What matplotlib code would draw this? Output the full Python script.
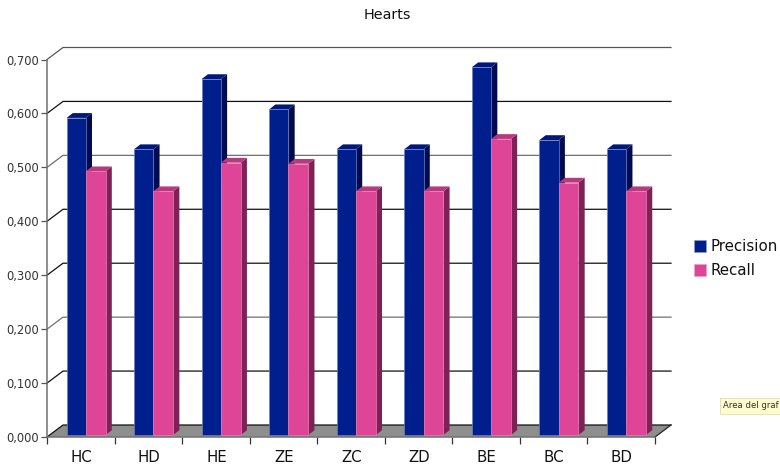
import matplotlib
matplotlib.use('Agg')
import matplotlib.pyplot as plt
from matplotlib.patches import Patch, Polygon

categories = ['HC', 'HD', 'HE', 'ZE', 'ZC', 'ZD', 'BE', 'BC', 'BD']
precision = [0.588, 0.530, 0.660, 0.604, 0.530, 0.530, 0.682, 0.547, 0.530]
recall = [0.489, 0.452, 0.505, 0.503, 0.452, 0.452, 0.549, 0.468, 0.452]
y_ticks = [0.0, 0.1, 0.2, 0.3, 0.4, 0.5, 0.6, 0.7]

W, H = 780, 467
LEFT, RIGHT, BOTTOM, TOP = 47, 655, 437, 59.5  # plot box in pixels

# pixel sizes turned into data units
px_x = len(categories) / (RIGHT - LEFT)
px_y = 0.7 / (BOTTOM - TOP)
wall_dx, wall_dy = 16 * px_x, 12 * px_y
bar_dx, bar_dy = 6.2 * px_x, 4.8 * px_y
blue_w = 19.2 * px_x
pink_w = 19.8 * px_x
bar_gap = 19.6 * px_x
base = 2 * px_y

fig = plt.figure(figsize=(W / 100, H / 100), dpi=100)
ax = fig.add_axes([LEFT / W, 1 - BOTTOM / H, (RIGHT - LEFT) / W, (BOTTOM - TOP) / H])
ax.set_xlim(0, len(categories))
ax.set_ylim(0, 0.7)
ax.patch.set_visible(False)
for name in ['top', 'right']:
    ax.spines[name].set_visible(False)
for name in ['left', 'bottom']:
    ax.spines[name].set_color('#707070')
    ax.spines[name].set_linewidth(1.1)

# floor
n = len(categories)
ax.add_patch(Polygon([(0, 0), (wall_dx, wall_dy), (n + wall_dx, wall_dy), (n, 0)],
                     closed=True, fc='#8e8e8e', ec='none', clip_on=False, zorder=1))

# grid, running along the side wall and the back wall
for v, c in zip(y_ticks, ['#111111', '#111111', '#707070', '#111111', '#111111', '#707070', '#111111', '#555555']):
    ax.plot([0, wall_dx, n + wall_dx], [v, v + wall_dy, v + wall_dy],
            color=c, lw=0.9, clip_on=False, zorder=2)
ax.plot([n, n + wall_dx], [0, wall_dy], color='#222222', lw=0.9, clip_on=False, zorder=2)


def draw_bar(x, val, w, front, top, side, edge, z):
    y1 = base + val
    ax.add_patch(Polygon([(x + w, base), (x + w + bar_dx, base + bar_dy),
                          (x + w + bar_dx, y1 + bar_dy), (x + w, y1)],
                         closed=True, fc=side, ec='none', clip_on=False, zorder=z))
    ax.add_patch(Polygon([(x, y1), (x + bar_dx, y1 + bar_dy),
                          (x + w + bar_dx, y1 + bar_dy), (x + w, y1)],
                         closed=True, fc=top, ec='none', clip_on=False, zorder=z))
    ax.bar(x, val, w, bottom=base, align='edge', color=front, edgecolor=edge, linewidth=0.5, zorder=z + 0.5)


for i in range(n):
    x = i + bar_gap
    draw_bar(x, precision[i], blue_w, '#001e8c', '#00187a', '#000a50', '#6f80c0', 3 + i * 2)
    draw_bar(x + blue_w, recall[i], pink_w, '#de4596', '#b53a80', '#7f2056', '#ea7cb6', 4 + i * 2)

ax.set_xticks(range(n + 1))
ax.set_xticklabels([])
ax.tick_params(axis='x', length=5, width=0.9, color='#333333')
for i, name in enumerate(categories):
    ax.annotate(name, (i + 0.5, 0), xytext=(0.5, -20), textcoords='offset pixels',
                ha='center', va='center', fontsize=10.8, color='#111111', annotation_clip=False)
ax.set_yticks(y_ticks)
ax.set_yticklabels([f'{v:.3f}'.replace('.', ',') for v in y_ticks], fontsize=8.3, color='#333333')
ax.tick_params(axis='y', length=4, width=0.9, color='#555555', pad=2)

fig.text(387 / W, 1 - 15 / H, 'Hearts', ha='center', va='center', fontsize=10.4, color='#111111')

fig.legend(handles=[Patch(fc='#001e8c', ec='#8f9fd0', lw=0.4, label='Precision'),
                    Patch(fc='#de4596', ec='#f0a0c8', lw=0.4, label='Recall')],
           loc='upper left', bbox_to_anchor=(693.5 / W, 1 - 239 / H), bbox_transform=fig.transFigure,
           frameon=False, fontsize=10.8, handlelength=0.85, handleheight=0.85,
           handletextpad=0.25, labelspacing=0.6, borderaxespad=0, borderpad=0, labelcolor='#111111')

# hover tooltip caught in the screenshot, cut by the image edge
fig.text(723 / W, 1 - 406 / H, 'Area del graf', ha='left', va='center', fontsize=6.1, color='#333322',
         bbox=dict(boxstyle='square,pad=0.4', fc='#fdfccf', ec='#d8d8b0', lw=0.5))

fig.savefig('out.png', dpi=100)
